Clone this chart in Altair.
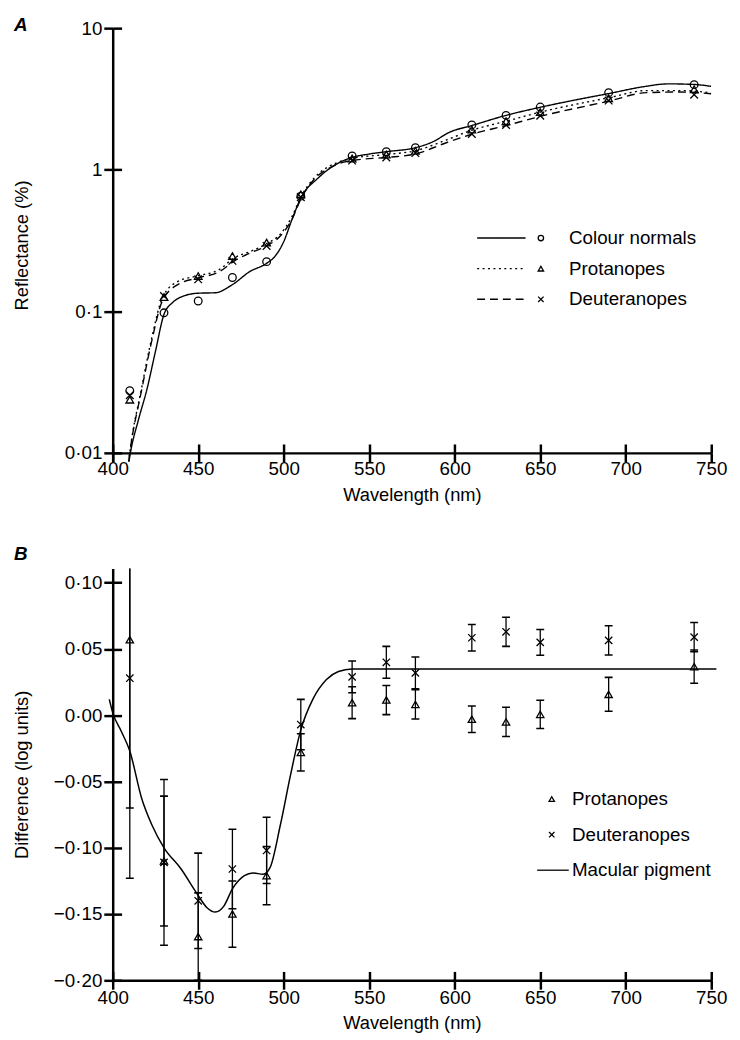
import altair as alt
import pandas as pd

FONT = "Liberation Sans"

# ---------------- Panel A : reflectance ----------------
wavelengths = [410, 430, 450, 470, 490, 510, 540, 560, 577, 610, 630, 650, 690, 740]
refl_normal = [0.0274, 0.0974, 0.118, 0.173, 0.224, 0.65, 1.25, 1.34, 1.43, 2.07, 2.42, 2.77, 3.50, 3.99]
refl_prot = [0.0237, 0.126, 0.177, 0.245, 0.305, 0.67, 1.20, 1.28, 1.36, 1.92, 2.20, 2.55, 3.20, 3.70]
refl_deut = [0.0255, 0.128, 0.168, 0.227, 0.289, 0.64, 1.16, 1.22, 1.31, 1.79, 2.07, 2.41, 3.08, 3.39]

curve_normal_wl = [408.5, 410.5, 415, 420, 425, 430, 435, 440, 450, 460, 470, 480, 490, 495, 500,
                   505, 510, 520, 530, 540, 550, 560, 577, 587, 597, 610, 630, 650, 670, 690,
                   710, 725, 740, 750]
curve_normal = [0.0072, 0.0102, 0.017, 0.028, 0.052, 0.095, 0.115, 0.126, 0.134, 0.135, 0.154,
                0.19, 0.218, 0.245, 0.31, 0.45, 0.63, 0.87, 1.08, 1.22, 1.29, 1.34, 1.43, 1.57,
                1.84, 2.05, 2.42, 2.76, 3.10, 3.45, 3.85, 4.04, 4.00, 3.88]

curve_other_wl = [408.5, 410, 417, 423, 429, 438, 450, 462, 471, 481, 490, 498, 505, 510, 518,
                  525, 531, 540, 560, 577, 595, 610, 630, 650, 690, 712, 731, 750]
curve_prot = [0.0072, 0.0101, 0.029, 0.066, 0.124, 0.162, 0.178, 0.196, 0.238, 0.266, 0.30, 0.35,
              0.47, 0.64, 0.88, 1.03, 1.12, 1.20, 1.28, 1.36, 1.62, 1.90, 2.20, 2.55, 3.22, 3.62,
              3.62, 3.50]
curve_deut = [0.0072, 0.0100, 0.028, 0.063, 0.118, 0.154, 0.172, 0.189, 0.226, 0.26, 0.289, 0.34,
              0.45, 0.62, 0.86, 1.00, 1.09, 1.16, 1.22, 1.29, 1.55, 1.78, 2.05, 2.38, 3.05, 3.50,
              3.54, 3.44]

groups_a = ["Colour normals", "Protanopes", "Deuteranopes"]

# ---------------- Panel B : differences ----------------
diff_prot = [0.057, -0.110, -0.167, -0.150, -0.121, -0.028, 0.0095, 0.0115, 0.0082, -0.003,
             -0.005, 0.0007, 0.0158, 0.0367]
diff_prot_se = [0.127, 0.049, 0.033, 0.025, 0.022, 0.014, 0.012, 0.011, 0.011, 0.010, 0.011,
                0.0107, 0.0128, 0.0125]
diff_deut = [0.028, -0.111, -0.140, -0.116, -0.102, -0.007, 0.029, 0.040, 0.032, 0.0585, 0.063,
             0.055, 0.0565, 0.059]
diff_deut_se = [0.151, 0.0625, 0.036, 0.030, 0.025, 0.019, 0.012, 0.012, 0.012, 0.010, 0.011,
                0.0097, 0.011, 0.011]

macular_wl = [398, 400, 405, 410, 417, 423, 430, 440, 449, 455, 460, 465, 470, 477, 482, 488,
              492, 498, 504, 510, 517, 525, 532, 540, 560, 600, 650, 700, 753]
macular = [0.012, 0.002, -0.012, -0.027, -0.063, -0.083, -0.100, -0.116, -0.134, -0.145, -0.1485,
           -0.144, -0.131, -0.121, -0.119, -0.120, -0.115, -0.083, -0.045, -0.011, 0.012, 0.027,
           0.033, 0.035, 0.035, 0.035, 0.035, 0.035, 0.035]

groups_b = ["Protanopes", "Deuteranopes", "Macular pigment"]

x_ticks = [400, 450, 500, 550, 600, 650, 700, 750]
ya_ticks = [0.01, 0.1, 1, 10]
yb_ticks = [-0.20, -0.15, -0.10, -0.05, 0.00, 0.05, 0.10]

# ---------------- tables ----------------
pts_a = pd.concat([
    pd.DataFrame({"wl": wavelengths, "refl": vals, "group": g})
    for g, vals in zip(groups_a, [refl_normal, refl_prot, refl_deut])
])
curves_a = pd.concat([
    pd.DataFrame({"wl": curve_normal_wl, "refl": curve_normal, "curve": groups_a[0]}),
    pd.DataFrame({"wl": curve_other_wl, "refl": curve_prot, "curve": groups_a[1]}),
    pd.DataFrame({"wl": curve_other_wl, "refl": curve_deut, "curve": groups_a[2]}),
])
pts_b = pd.concat([
    pd.DataFrame({"wl": wavelengths, "diff": d, "se": s, "group": g})
    for g, d, s in zip(groups_b[:2], [diff_prot, diff_deut], [diff_prot_se, diff_deut_se])
])
mac_df = pd.DataFrame({"wl": macular_wl, "diff": macular})

XPATH = "M-1,-1L1,1M1,-1L-1,1"
LINEPATH = "M-5.4,0H6.3"

W = 606
HA = 439
HB = 417

xs = alt.Scale(domain=[400, 750], nice=False, zero=False)
ysa = alt.Scale(type="log", domain=[0.00863, 10], nice=False)
ysb = alt.Scale(domain=[-0.2, 0.1108], nice=False, zero=False)

AX = dict(domainColor="black", tickColor="black", domainWidth=2.5, tickWidth=2.5, tickSize=9,
          labelFont=FONT, labelFontSize=19, labelColor="black", labelFlush=False,
          titleFont=FONT, titleFontSize=18.5, titleFontWeight="normal", titleColor="black",
          grid=False)

INNER = dict(domain=False, labels=False, title=None, ticks=True, tickColor="black",
             tickWidth=2.5, tickSize=9, grid=False)

TITLE = dict(anchor="start", frame="bounds", font=FONT, fontSize=19, fontStyle="italic",
             fontWeight="bold", color="black", dx=1)

LEG = dict(orient="none", title=None, padding=0, labelFont=FONT, labelFontSize=19,
           labelColor="black", symbolStrokeColor="black")

# ----- Panel A -----
xa_axis = alt.Axis(values=x_ticks, offset=-9, labelPadding=-2, titlePadding=7,
                   title="Wavelength (nm)", **AX)
ya_axis = alt.Axis(values=ya_ticks, title="Reflectance (%)", titleX=-82,
                   labelExpr="replace(format(datum.value, '~g'), '.', '·')", **AX)

lines_a = alt.Chart(curves_a).mark_line(color="black", strokeWidth=1.4, clip=True,
                                         interpolate="monotone").encode(
    x=alt.X("wl:Q", scale=xs, axis=xa_axis),
    y=alt.Y("refl:Q", scale=ysa, axis=ya_axis),
    strokeDash=alt.StrokeDash(
        "curve:N",
        scale=alt.Scale(domain=groups_a, range=[[1, 0], [2, 3.5], [8, 5]]),
        legend=alt.Legend(legendX=384, legendY=203, symbolType="M-7,0H7", symbolSize=49,
                          symbolStrokeWidth=1.4, labelExpr="' '", rowPadding=11, **LEG),
    ),
)

points_a = alt.Chart(pts_a).mark_point(filled=False, color="black", strokeWidth=1.3, size=60,
                                       opacity=1, clip=True).encode(
    x=alt.X("wl:Q", scale=xs, axis=None),
    y=alt.Y("refl:Q", scale=ysa, axis=None),
    shape=alt.Shape(
        "group:N",
        scale=alt.Scale(domain=groups_a, range=["circle", "triangle-up", XPATH]),
        legend=alt.Legend(legendX=424, legendY=203, symbolSize=30, symbolStrokeWidth=1.3,
                          symbolFillColor="transparent", symbolOpacity=1, labelOffset=19,
                          rowPadding=11, **LEG),
    ),
)

inner_a = alt.Chart(pts_a).mark_point(opacity=0).encode(
    x=alt.X("wl:Q", scale=xs, axis=alt.Axis(orient="bottom", offset=-18, values=x_ticks, **INNER)),
    y=alt.Y("refl:Q", scale=ysa, axis=alt.Axis(orient="left", offset=-9, values=ya_ticks, **INNER)),
)

panel_a = alt.layer(lines_a, points_a, inner_a).resolve_axis(
    x="independent", y="independent").resolve_legend(
    shape="independent", strokeDash="independent").properties(
    width=W, height=HA, title=alt.TitleParams("A", offset=-16, **TITLE),
)

# ----- Panel B -----
xb_axis = alt.Axis(values=x_ticks, labelPadding=-1, titlePadding=7,
                   title="Wavelength (nm)", **AX)
yb_axis = alt.Axis(values=yb_ticks, title="Difference (log units)", titleX=-82,
                   labelExpr="replace(format(datum.value, '.2f'), '.', '·')", **AX)

mac_line = alt.Chart(mac_df).mark_line(color="black", strokeWidth=1.5,
                                       interpolate="monotone").encode(
    x=alt.X("wl:Q", scale=xs, axis=xb_axis),
    y=alt.Y("diff:Q", scale=ysb, axis=yb_axis),
)

base_b = alt.Chart(pts_b).transform_calculate(
    lo="datum.diff - datum.se", hi="datum.diff + datum.se")

err_rules = base_b.mark_rule(color="black", strokeWidth=1.3, clip=True).encode(
    x=alt.X("wl:Q", scale=xs, axis=None),
    y=alt.Y("lo:Q", scale=ysb, axis=None),
    y2="hi:Q",
)
caps_lo = base_b.mark_point(shape="stroke", size=64, color="black", strokeWidth=1.6,
                            filled=False, opacity=1, clip=True).encode(
    x=alt.X("wl:Q", scale=xs, axis=None),
    y=alt.Y("lo:Q", scale=ysb, axis=None),
)
caps_hi = base_b.mark_point(shape="stroke", size=64, color="black", strokeWidth=1.6,
                            filled=False, opacity=1, clip=True).encode(
    x=alt.X("wl:Q", scale=xs, axis=None),
    y=alt.Y("hi:Q", scale=ysb, axis=None),
)
points_b = alt.Chart(pts_b).mark_point(filled=False, color="black", strokeWidth=1.3, size=55,
                                       opacity=1).encode(
    x=alt.X("wl:Q", scale=xs, axis=None),
    y=alt.Y("diff:Q", scale=ysb, axis=None),
    shape=alt.Shape(
        "group:N",
        scale=alt.Scale(domain=groups_b, range=["triangle-up", XPATH, LINEPATH]),
        legend=alt.Legend(legendX=435, legendY=224, symbolSize=30, symbolStrokeWidth=1.3,
                          symbolFillColor="transparent", symbolOpacity=1, labelOffset=11,
                          rowPadding=16, **LEG),
    ),
)
inner_b = alt.Chart(pts_b).mark_point(opacity=0).encode(
    x=alt.X("wl:Q", scale=xs, axis=alt.Axis(orient="bottom", offset=-9, values=x_ticks, **INNER)),
    y=alt.Y("diff:Q", scale=ysb, axis=alt.Axis(orient="left", offset=-9, values=yb_ticks, **INNER)),
)

panel_b = alt.layer(mac_line, err_rules, caps_lo, caps_hi, points_b, inner_b).resolve_axis(
    x="independent", y="independent").properties(
    width=W, height=HB, title=alt.TitleParams("B", offset=5, **TITLE),
)

chart = alt.vconcat(panel_a, panel_b, spacing=41).resolve_scale(
    shape="independent", strokeDash="independent").resolve_legend(
    shape="independent", strokeDash="independent").properties(
    padding={"left": 5, "top": 2, "right": 5, "bottom": 0},
    background="white",
).configure_view(stroke=None)

chart.save("out.html", embed_options={"renderer": "svg", "actions": False})
